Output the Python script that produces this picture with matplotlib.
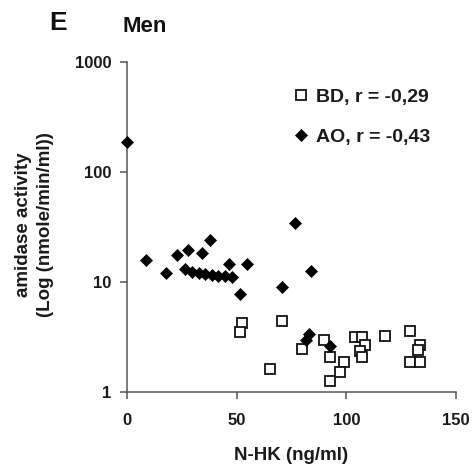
import matplotlib
matplotlib.use("Agg")
import matplotlib.pyplot as plt
from matplotlib.ticker import FixedLocator, FixedFormatter, NullLocator

plt.rcParams['font.family'] = ['Liberation Sans', 'DejaVu Sans']
plt.rcParams['font.weight'] = 'bold'

# BD series (open squares)
bd_x = [52.4, 51.3, 65.3, 70.6, 79.8, 89.7, 92.7, 98.8, 97.3, 92.7, 104.1, 107.2,
        108.7, 106.4, 107.2, 117.8, 129.2, 133.5, 132.5, 129.2, 133.8]
bd_y = [4.27, 3.49, 1.61, 4.45, 2.44, 2.97, 2.07, 1.89, 1.53, 1.26, 3.18, 3.14,
        2.67, 2.38, 2.07, 3.23, 3.59, 2.67, 2.41, 1.89, 1.89]

# AO series (filled diamonds)
ao_x = [0, 8.7, 17.8, 23, 28, 34, 38, 26.5, 29.5, 32.6, 35.6, 38.7, 41.7, 44.7,
        47.8, 46.3, 54.7, 51.6, 70.6, 76.4, 83.9, 82.8, 81.5, 92.4]
ao_y = [188, 15.9, 12.2, 17.6, 19.5, 18.4, 24, 13.0, 12.4, 12.0, 11.7, 11.6, 11.4,
        11.4, 11.0, 14.7, 14.5, 7.7, 9.0, 34.6, 12.6, 3.4, 3.0, 2.6]

bd_label = "BD, r = -0,29"
ao_label = "AO, r = -0,43"
x_ticks = [0, 50, 100, 150]
y_ticks = [1, 10, 100, 1000]
y_ticklabels = ["1", "10", "100", "1000"]

fig = plt.figure(figsize=(4.73, 4.71), dpi=100)
ax = fig.add_axes([127/473, 1-392/471, (456-127)/473, (392-62)/471])

ax.plot(bd_x, bd_y, linestyle='none', marker='s', markersize=7.4,
        markerfacecolor='white', markeredgecolor='#111111', markeredgewidth=1.3,
        label=bd_label, clip_on=False, zorder=3)
ax.plot(ao_x, ao_y, linestyle='none', marker='D', markersize=6.6,
        markerfacecolor='black', markeredgecolor='black', markeredgewidth=0.5,
        label=ao_label, clip_on=False, zorder=4)

ax.set_yscale('log')
ax.set_xlim(0, 150)
ax.set_ylim(1, 1000)
ax.xaxis.set_major_locator(FixedLocator(x_ticks))
ax.yaxis.set_major_locator(FixedLocator(y_ticks))
ax.yaxis.set_major_formatter(FixedFormatter(y_ticklabels))
ax.yaxis.set_minor_locator(NullLocator())

for s in ['top', 'right']:
    ax.spines[s].set_visible(False)
for s in ['left', 'bottom']:
    ax.spines[s].set_color('#555555')
    ax.spines[s].set_linewidth(1.1)

ax.tick_params(axis='both', direction='out', length=5, width=1.1, color='#555555',
               labelsize=12, labelcolor='#1a1a1a')
ax.tick_params(axis='y', pad=6)
ax.tick_params(axis='x', pad=10)
for lbl in ax.get_xticklabels() + ax.get_yticklabels():
    lbl.set_fontweight('bold')

ax.set_xlabel("N-HK (ng/ml)", fontsize=13.5, fontweight='bold', color='#1a1a1a', labelpad=14)
fig.text(23/473, 1-225/471, "amidase activity", rotation=90, fontsize=13.5,
         fontweight='bold', color='#1a1a1a', ha='center', va='center')
fig.text(46/473, 1-225/471, "(Log (nmole/min/ml))", rotation=90, fontsize=13.5,
         fontweight='bold', color='#1a1a1a', ha='center', va='center')

fig.text(58/473, 1-23/471, "E", fontsize=19, fontweight='bold', color='#111111',
         ha='center', va='center')
fig.text(122/473, 1-26/471, "Men", fontsize=16, fontweight='bold', color='#111111',
         ha='left', va='center')

leg = ax.legend(loc='upper left', bbox_to_anchor=(0.505, 0.92), frameon=False,
                borderpad=0, borderaxespad=0, handlelength=0.8, handletextpad=0.35,
                labelspacing=1.15, prop={'size': 14, 'weight': 'bold'})
for t in leg.get_texts():
    t.set_color('#1a1a1a')

fig.savefig("out.png", dpi=100)
